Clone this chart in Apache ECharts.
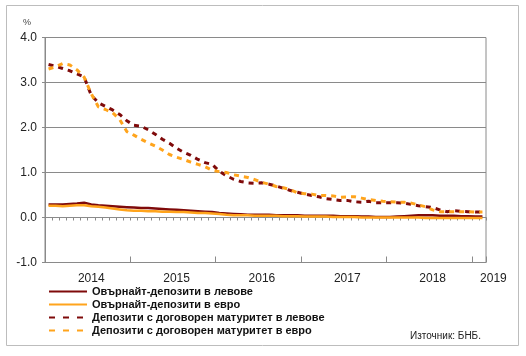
<!DOCTYPE html>
<html>
<head>
<meta charset="utf-8">
<script src="https://cdn.jsdelivr.net/npm/echarts@6/dist/echarts.min.js"></script>
<style>
html,body{margin:0;padding:0;background:#fff;}
#chart{width:526px;height:356px;}
</style>
</head>
<body>
<div id="chart"></div>
<script>
// Monthly categories Jan 2014 .. Feb 2019
const years = [2014, 2015, 2016, 2017, 2018, 2019];
const months = [];
for (const y of years) {
  for (let m = 1; m <= 12; m++) {
    if (y === 2019 && m > 2) break;
    months.push(y + '-' + String(m).padStart(2, '0'));
  }
}
const yearLabels = ['2014', '2015', '2016', '2017', '2018', '2019'];
const yearLabelIdx = [6, 18, 30, 42, 54, 61];
const yearStartIdx = [12, 24, 36, 48, 60];

const seriesNames = [
  'Овърнайт-депозити в левове',
  'Овърнайт-депозити в евро',
  'Депозити с договорен матуритет в левове',
  'Депозити с договорен матуритет в евро'
];

const overnightBGN = [0.29,0.29,0.29,0.30,0.31,0.33,0.29,0.27,0.26,0.25,
  0.24,0.23,0.22,0.21,0.21,0.20,0.19,0.18,0.17,0.16,
  0.15,0.14,0.13,0.12,0.10,0.09,0.08,0.07,0.06,0.06,
  0.06,0.06,0.05,0.05,0.05,0.05,0.04,0.04,0.04,0.04,
  0.04,0.03,0.03,0.03,0.02,0.02,0.01,0.01,0.01,0.02,
  0.03,0.04,0.05,0.05,0.05,0.04,0.04,0.04,0.03,0.03,
  0.02,0.02];
const overnightEUR = [0.26,0.26,0.25,0.26,0.27,0.27,0.25,0.24,0.22,0.20,
  0.18,0.16,0.15,0.15,0.14,0.14,0.13,0.13,0.12,0.12,
  0.11,0.10,0.10,0.09,0.08,0.06,0.05,0.05,0.05,0.04,
  0.04,0.04,0.04,0.03,0.03,0.03,0.02,0.02,0.02,0.02,
  0.01,0.01,0.01,0.01,0.00,0.00,0.00,0.00,0.00,0.00,
  0.00,0.00,0.00,-0.01,-0.01,-0.01,-0.01,-0.01,-0.01,-0.01,
  -0.01,-0.01];
const termBGN = [3.40,3.36,3.31,3.26,3.19,3.12,2.72,2.55,2.47,2.39,
  2.29,2.15,2.05,2.03,1.95,1.85,1.74,1.65,1.54,1.45,
  1.38,1.29,1.22,1.18,1.03,0.93,0.85,0.80,0.77,0.76,
  0.77,0.74,0.70,0.65,0.60,0.56,0.52,0.49,0.46,0.42,
  0.40,0.38,0.38,0.35,0.34,0.36,0.33,0.33,0.33,0.33,
  0.32,0.29,0.26,0.24,0.22,0.17,0.13,0.15,0.14,0.13,
  0.12,0.12];
const termEUR = [3.30,3.35,3.42,3.39,3.28,3.12,2.75,2.46,2.40,2.33,
  2.18,1.91,1.83,1.74,1.66,1.59,1.50,1.40,1.34,1.29,
  1.23,1.18,1.13,1.05,1.02,1.00,0.95,0.92,0.89,0.84,
  0.78,0.74,0.69,0.66,0.62,0.55,0.53,0.52,0.49,0.49,
  0.48,0.45,0.46,0.46,0.43,0.40,0.38,0.36,0.35,0.34,
  0.34,0.32,0.28,0.24,0.17,0.13,0.13,0.13,0.13,0.13,
  0.12,0.12];

const yTicks = [-1, 0, 1, 2, 3, 4];

const DARK = '#7f0a0a';
const ORANGE = '#ffa41c';
const FONT = '"Liberation Sans", Arial, sans-serif';

const chart = echarts.init(document.getElementById('chart'), null, {renderer: 'canvas'});

chart.setOption({
  animation: false,
  textStyle: {fontFamily: FONT},
  title: {
    text: '%', left: 18, top: 13,
    textStyle: {fontSize: 9, fontWeight: 'normal', color: '#444', fontFamily: FONT}
  },
  grid: {
    left: 45, right: 40, top: 37.5, bottom: 93.5,
    show: true, borderColor: '#8a8a8a', borderWidth: 1, backgroundColor: 'transparent'
  },
  legend: {
    orient: 'vertical', left: 43, top: 280,
    itemWidth: 38, itemHeight: 10, itemGap: 0,
    itemStyle: {opacity: 0},
    textStyle: {fontSize: 11, fontWeight: 'bold', color: '#111', lineHeight: 13, fontFamily: FONT},
    data: [
      {name: seriesNames[0]},
      {name: seriesNames[1]},
      {name: seriesNames[2], lineStyle: {type: [6, 8]}},
      {name: seriesNames[3], lineStyle: {type: [6, 8]}}
    ]
  },
  xAxis: [
    {
      type: 'category', data: months, boundaryGap: true, position: 'bottom',
      axisLine: {show: true, onZero: true, lineStyle: {color: '#8a8a8a', width: 1}},
      axisTick: {show: true, interval: 0, length: 3, lineStyle: {color: '#8a8a8a'}},
      axisLabel: {show: false},
      splitLine: {show: false}
    },
    {
      type: 'category', data: months, boundaryGap: true, position: 'bottom',
      axisLine: {show: false, onZero: true},
      axisTick: {show: true, inside: true, length: 6,
        interval: function (idx) { return yearStartIdx.indexOf(idx) >= 0; },
        lineStyle: {color: '#8a8a8a'}},
      axisLabel: {show: false},
      splitLine: {show: false}
    },
    {
      type: 'category', data: months, boundaryGap: true, position: 'bottom',
      axisLine: {show: false, onZero: false},
      axisTick: {show: false},
      axisLabel: {
        show: true, margin: 10, fontSize: 12, color: '#222', fontFamily: FONT,
        interval: function (idx) { return yearLabelIdx.indexOf(idx) >= 0; },
        formatter: function (v, idx) {
          const k = yearLabelIdx.indexOf(idx);
          if (k < 0) return '';
          return k === yearLabels.length - 1 ? '{last|' + yearLabels[k] + '}' : yearLabels[k];
        },
        rich: {last: {fontSize: 12, color: '#222', fontFamily: FONT, padding: [0, 0, 0, 22]}}
      },
      splitLine: {show: false}
    }
  ],
  yAxis: {
    type: 'value', min: yTicks[0], max: yTicks[yTicks.length - 1], interval: 1,
    axisLine: {show: true, lineStyle: {color: '#8a8a8a'}},
    axisTick: {show: true, length: 3, lineStyle: {color: '#8a8a8a'}},
    axisLabel: {fontSize: 12, color: '#222', margin: 8, fontFamily: FONT,
      formatter: function (v) { return v.toFixed(1); }},
    splitLine: {show: true, lineStyle: {color: '#8a8a8a', width: 1}}
  },
  series: [
    {name: seriesNames[0], type: 'line', data: overnightBGN, symbol: 'none', xAxisIndex: 0,
      lineStyle: {color: DARK, width: 2.5}, itemStyle: {color: DARK}},
    {name: seriesNames[1], type: 'line', data: overnightEUR, symbol: 'none', xAxisIndex: 0,
      lineStyle: {color: ORANGE, width: 2.5}, itemStyle: {color: ORANGE}},
    {name: seriesNames[2], type: 'line', data: termBGN, symbol: 'none', xAxisIndex: 0,
      lineStyle: {color: DARK, width: 3, type: [5, 5], cap: 'butt'}, itemStyle: {color: DARK}},
    {name: seriesNames[3], type: 'line', data: termEUR, symbol: 'none', xAxisIndex: 0,
      lineStyle: {color: ORANGE, width: 3, type: [5, 5], cap: 'butt'}, itemStyle: {color: ORANGE}}
  ],
  graphic: [
    {type: 'rect', shape: {x: 6.5, y: 5.5, width: 512, height: 340},
      style: {fill: 'none', stroke: '#bdbdbd', lineWidth: 1}, silent: true},
    {type: 'text', left: 410, top: 331,
      style: {text: 'Източник: БНБ.', fontSize: 10, fill: '#222', fontFamily: FONT}}
  ]
});
</script>
</body>
</html>
